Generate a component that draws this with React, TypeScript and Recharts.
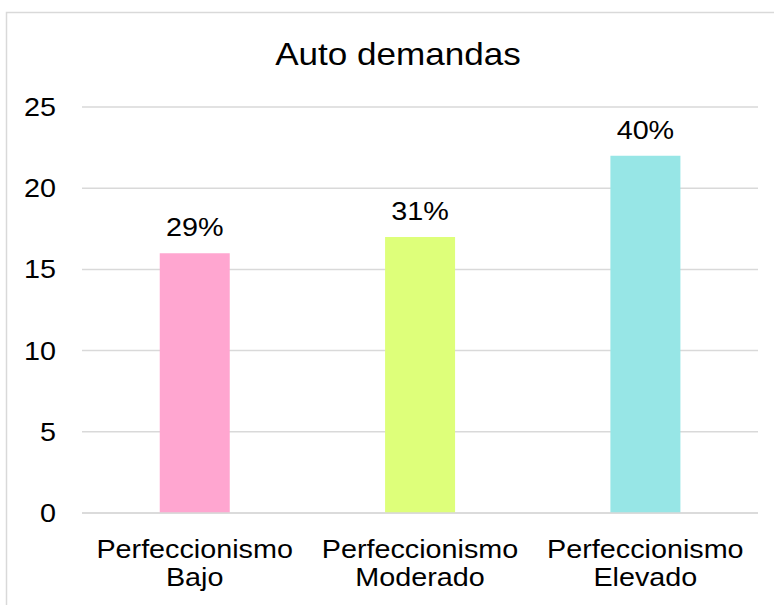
import React from 'react';
import { BarChart, Bar, XAxis, YAxis, CartesianGrid, Cell, LabelList } from 'recharts';

const categories = ['Perfeccionismo Bajo', 'Perfeccionismo Moderado', 'Perfeccionismo Elevado'];
const categoryLines = [
  ['Perfeccionismo', 'Bajo'],
  ['Perfeccionismo', 'Moderado'],
  ['Perfeccionismo', 'Elevado'],
];
const values = [16, 17, 22];
const percentLabels = ['29%', '31%', '40%'];
const barColors = ['#FFA6D0', '#DEFF7A', '#97E6E6'];
const yTicks = [0, 5, 10, 15, 20, 25];
const title = 'Auto demandas';

const data = categories.map((c, i) => ({ name: c, value: values[i], label: percentLabels[i], idx: i }));

const FONT = '"Liberation Sans", Arial, sans-serif';
const SX = 1.15;

const XTick = (props: any) => {
  const { x, y, payload } = props;
  const lines = categoryLines[payload.index] ?? [String(payload.value)];
  return (
    <g transform={`translate(${x},${y}) scale(${SX},1)`}>
      {lines.map((l, i) => (
        <text key={i} x={0} y={45 + i * 28} textAnchor="middle" fontFamily={FONT} fontSize={25} fill="#000">
          {l}
        </text>
      ))}
    </g>
  );
};

const YTick = (props: any) => {
  const { x, y, payload } = props;
  return (
    <g transform={`translate(${x},${y}) scale(${SX},1)`}>
      <text x={0} y={0} dy="0.36em" textAnchor="end" fontFamily={FONT} fontSize={25} fill="#000">
        {payload.value}
      </text>
    </g>
  );
};

const TopLabel = (props: any) => {
  const { x, y, width, index } = props;
  const cx = Number(x) + Number(width) / 2;
  return (
    <g transform={`translate(${cx},${Number(y) - 17}) scale(${SX},1)`}>
      <text x={0} y={0} textAnchor="middle" fontFamily={FONT} fontSize={25} fill="#000">
        {percentLabels[index]}
      </text>
    </g>
  );
};

export default function App() {
  return (
    <div style={{ position: 'absolute', left: 0, top: 0, width: 774, height: 605, overflow: 'hidden', background: '#fff' }}>
      <svg width={774} height={605} style={{ position: 'absolute', left: 0, top: 0 }}>
        <rect x={6.5} y={12.5} width={800} height={700} fill="#fff" stroke="#D9D9D9" strokeWidth={1.5} />
        <g transform={`translate(398,65) scale(${SX},1)`}>
          <text x={0} y={0} textAnchor="middle" fontFamily={FONT} fontSize={30.5} fill="#000">
            {title}
          </text>
        </g>
      </svg>
      <div style={{ position: 'absolute', left: 0, top: 0 }}>
        <BarChart
          width={774}
          height={605}
          data={data}
          margin={{ top: 107, right: 16, bottom: 0, left: 0 }}
          barCategoryGap="34.5%"
        >
          <CartesianGrid vertical={false} stroke="#D9D9D9" strokeWidth={1.5} />
          <XAxis
            dataKey="name"
            height={92}
            axisLine={{ stroke: '#D9D9D9', strokeWidth: 1.5 }}
            tickLine={false}
            tickSize={0}
            tickMargin={0}
            interval={0}
            tick={<XTick />}
          />
          <YAxis
            width={82}
            domain={[0, 25]}
            ticks={yTicks}
            axisLine={false}
            tickLine={false}
            tickSize={0}
            tickMargin={26}
            tick={<YTick />}
          />
          <Bar dataKey="value" isAnimationActive={false}>
            {data.map((d, i) => (
              <Cell key={i} fill={barColors[i]} />
            ))}
            <LabelList dataKey="label" content={<TopLabel />} />
          </Bar>
        </BarChart>
      </div>
    </div>
  );
}
